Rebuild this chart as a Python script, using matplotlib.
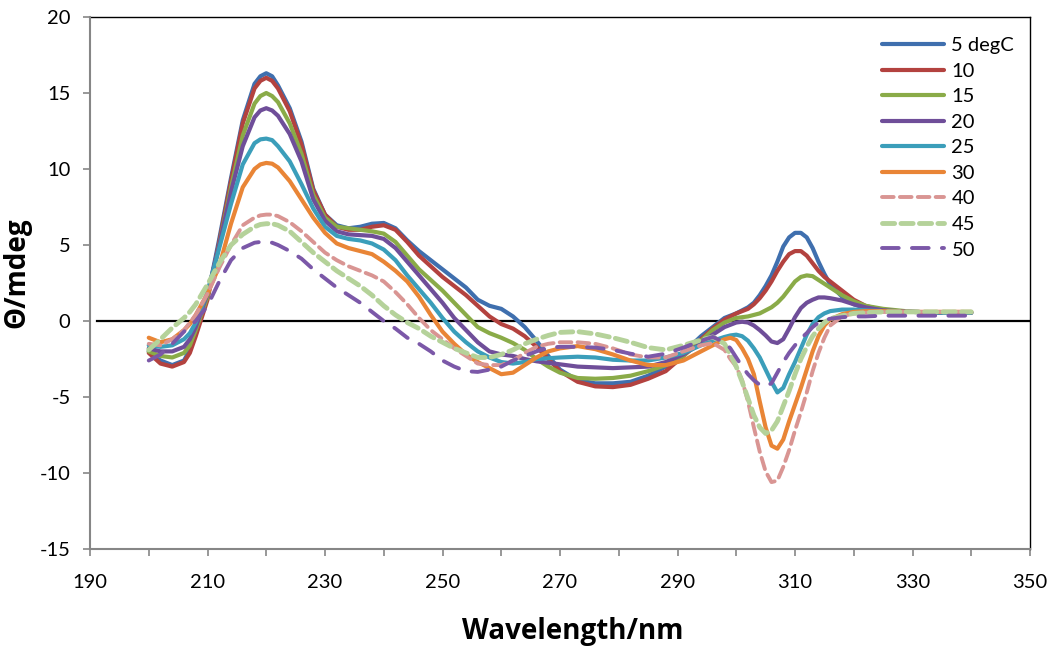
import matplotlib
matplotlib.use("Agg")
from matplotlib import pyplot as plt
from matplotlib.ticker import FixedLocator, MultipleLocator

# wavelength grid (nm) shared by all series
wl = [200, 202, 204, 206, 207, 208, 210, 212, 214, 216, 218, 219, 220, 221, 222, 224, 226, 228, 230,
      232, 234, 236, 238, 240, 242, 244, 246, 248, 250, 252, 254, 256, 258, 260, 262, 264,
      266, 268, 270,
      273, 276, 279, 282, 285, 288, 291, 294, 296, 298,
      299, 300, 301, 302, 303, 304, 305, 306, 307, 308, 309, 310, 311, 312, 313, 314, 315,
      316, 318, 320, 322, 325, 330, 335, 340]

t05 = [-2.0, -2.6, -2.9, -2.6, -1.9, -0.8, 1.6, 5.4, 9.4, 13.2, 15.6, 16.1, 16.3, 16.1, 15.5, 14.0, 11.8, 8.7, 7.0,
       6.3, 6.1, 6.2, 6.4, 6.45, 6.1, 5.3, 4.6, 4.0, 3.4, 2.8, 2.2, 1.4, 1.0, 0.8, 0.3, -0.4,
       -1.3, -2.3, -3.2,
       -3.9, -4.1, -4.1, -4.0, -3.6, -3.0, -2.1, -1.0, -0.4, 0.2,
       0.35, 0.5, 0.7, 0.9, 1.2, 1.7, 2.3, 3.0, 3.9, 4.9, 5.5, 5.8, 5.8, 5.5, 4.8, 3.9, 3.1,
       2.4, 1.6, 1.1, 0.85, 0.7, 0.6, 0.55, 0.55]
t10 = [-2.1, -2.8, -3.0, -2.7, -2.1, -1.0, 1.4, 5.2, 9.2, 13.0, 15.3, 15.8, 16.0, 15.8, 15.3, 13.8, 11.6, 8.6, 7.0,
       6.2, 6.0, 6.0, 6.2, 6.3, 6.0, 5.2, 4.3, 3.6, 2.9, 2.3, 1.7, 1.0, 0.3, -0.2, -0.5, -1.0,
       -1.7, -2.5, -3.3,
       -4.0, -4.3, -4.35, -4.2, -3.8, -3.3, -2.3, -1.2, -0.5, 0.1,
       0.3, 0.5, 0.65, 0.8, 1.1, 1.5, 2.0, 2.6, 3.3, 3.9, 4.4, 4.6, 4.6, 4.3, 3.8, 3.3, 2.9,
       2.6, 2.0, 1.4, 1.0, 0.7, 0.6, 0.55, 0.55]
t15 = [-2.0, -2.3, -2.4, -2.1, -1.6, -0.6, 1.6, 5.0, 8.8, 12.2, 14.3, 14.8, 15.0, 14.8, 14.4, 13.0, 11.0, 8.3, 6.8,
       6.2, 6.1, 6.0, 5.9, 5.75, 5.2, 4.3, 3.4, 2.7, 2.0, 1.2, 0.4, -0.4, -0.8, -1.1, -1.45, -1.9,
       -2.5, -3.0, -3.4,
       -3.75, -3.8, -3.75, -3.6, -3.3, -2.9, -2.3, -1.3, -0.6, -0.1,
       0.05, 0.2, 0.25, 0.3, 0.4, 0.5, 0.7, 0.9, 1.2, 1.6, 2.1, 2.6, 2.9, 3.0, 2.95, 2.7, 2.45,
       2.2, 1.7, 1.3, 1.0, 0.8, 0.6, 0.55, 0.55]
t20 = [-1.8, -2.0, -2.0, -1.7, -1.2, -0.4, 1.8, 5.0, 8.5, 11.5, 13.4, 13.85, 14.0, 13.85, 13.5, 12.3, 10.5, 8.0, 6.6,
       5.9, 5.7, 5.65, 5.6, 5.4, 4.8, 3.9, 3.0, 2.1, 1.2, 0.2, -0.6, -1.4, -2.0, -2.2, -2.3, -2.5,
       -2.65, -2.75, -2.85,
       -3.0, -3.05, -3.1, -3.05, -3.0, -2.7, -2.2, -1.5, -0.9, -0.4,
       -0.25, -0.1, -0.05, -0.1, -0.3, -0.6, -0.95, -1.35, -1.45, -1.2, -0.5, 0.25, 0.85, 1.2, 1.4,
       1.55, 1.55, 1.5, 1.35, 1.1, 0.9, 0.7, 0.6, 0.55, 0.55]
t25 = [-1.6, -1.7, -1.6, -1.2, -0.8, -0.1, 1.9, 4.8, 7.7, 10.3, 11.7, 11.95, 12.0, 11.9, 11.5, 10.5, 9.0, 7.4, 6.2,
       5.6, 5.4, 5.3, 5.1, 4.7, 4.0, 3.0, 2.1, 1.2, 0.2, -0.7, -1.4, -2.0, -2.4, -2.7, -2.8, -2.7,
       -2.5, -2.45, -2.4,
       -2.35, -2.4, -2.55, -2.6, -2.6, -2.4, -2.1, -1.6, -1.3, -1.05,
       -0.95, -0.9, -1.0, -1.3, -1.8, -2.4, -3.2, -4.0, -4.7, -4.4, -3.5, -2.7, -1.8, -0.9, -0.2,
       0.25, 0.5, 0.65, 0.75, 0.75, 0.7, 0.65, 0.6, 0.55, 0.55]
t30 = [-1.1, -1.4, -1.2, -0.6, -0.2, 0.4, 1.8, 3.6, 6.4, 8.8, 10.0, 10.3, 10.4, 10.35, 10.1, 9.2, 8.0, 6.8, 5.8,
       5.1, 4.8, 4.6, 4.4, 3.9, 3.3, 2.6, 1.6, 0.4, -0.7, -1.5, -2.2, -2.7, -3.1, -3.5, -3.4, -2.9,
       -2.4, -2.0, -1.8,
       -1.65, -1.85, -2.2, -2.6, -2.9, -2.9, -2.6, -2.0, -1.6, -1.2,
       -1.1, -1.25, -1.8, -2.5, -3.5, -5.3, -7.0, -8.2, -8.4, -7.8, -6.6, -5.5, -4.4, -3.2, -2.0,
       -1.0, -0.3, 0.1, 0.45, 0.6, 0.65, 0.65, 0.6, 0.6, 0.6]
t40 = [-1.5, -1.6, -1.2, -0.6, -0.1, 0.4, 1.8, 3.5, 5.0, 6.3, 6.8, 6.95, 7.0, 7.0, 6.9, 6.5, 5.9, 5.2, 4.5,
       4.0, 3.6, 3.3, 3.0, 2.6, 1.9, 1.1, 0.2, -0.6, -1.2, -1.8, -2.3, -2.8, -2.9, -2.9, -2.6, -2.1,
       -1.7, -1.5, -1.4,
       -1.4, -1.5, -1.8, -2.2, -2.4, -2.4, -2.0, -1.6, -1.45, -1.9,
       -2.5, -3.0, -3.9, -5.3, -7.0, -8.6, -9.9, -10.6, -10.5, -9.6, -8.5, -7.2, -6.0, -4.7, -3.3,
       -2.1, -1.1, -0.3, 0.3, 0.5, 0.55, 0.6, 0.6, 0.6, 0.6]
t45 = [-1.9, -1.2, -0.45, 0.2, 0.6, 1.1, 2.4, 3.8, 5.0, 5.7, 6.2, 6.35, 6.4, 6.4, 6.3, 5.9, 5.2, 4.5, 3.9,
       3.3, 2.8, 2.3, 1.7, 1.0, 0.4, -0.1, -0.5, -1.0, -1.4, -1.8, -2.1, -2.4, -2.4, -2.2, -1.9, -1.5,
       -1.2, -0.95, -0.75,
       -0.7, -0.85, -1.1, -1.4, -1.75, -1.9, -1.6, -1.25, -1.05, -1.5,
       -2.2, -3.0, -4.0, -5.1, -6.2, -7.0, -7.4, -7.2, -6.6, -5.6, -4.6, -3.5, -2.5, -1.7, -1.0,
       -0.5, -0.1, 0.15, 0.35, 0.5, 0.55, 0.6, 0.6, 0.6, 0.6]
t50 = [-2.6, -2.2, -1.5, -0.7, -0.35, 0.0, 1.0, 2.6, 4.0, 4.8, 5.15, 5.2, 5.2, 5.15, 5.0, 4.6, 4.1, 3.4, 2.8,
       2.2, 1.7, 1.2, 0.6, 0.0, -0.5, -1.1, -1.5, -2.0, -2.6, -3.0, -3.3, -3.35, -3.2, -3.0, -2.6, -2.3,
       -2.0, -1.75, -1.7,
       -1.7, -1.75, -1.9, -2.15, -2.35, -2.15, -1.75, -1.3, -1.05, -1.4,
       -1.8, -2.4, -3.0, -3.5, -3.9, -4.2, -4.3, -4.1, -3.4, -2.7, -2.1, -1.6, -1.15, -0.8, -0.4,
       -0.1, 0.05, 0.15, 0.25, 0.3, 0.3, 0.35, 0.35, 0.35, 0.35]

labels = ['5 degC', '10', '15', '20', '25', '30', '40', '45', '50']
series = [t05, t10, t15, t20, t25, t30, t40, t45, t50]
colors = ['#3F6FAE', '#B3423F', '#8AAB48', '#6F4E99', '#3B9EBA', '#E98536',
          '#D99593', '#B5D29A', '#7B58A8']
widths = [3.0, 3.0, 3.0, 3.0, 3.0, 3.0, 2.8, 3.5, 2.8]
styles = ['-', '-', '-', '-', '-', '-', (0, (3.0, 1.6)), (0, (2.5, 1.3)), (0, (4.3, 3.4))]

xmajor = [190, 210, 230, 250, 270, 290, 310, 330, 350]
xminor = [200, 220, 240, 260, 280, 300, 320, 340]

plt.rcParams['font.family'] = ['Lato', 'DejaVu Sans']
plt.rcParams['axes.unicode_minus'] = False

fig = plt.figure(figsize=(10.5, 6.56), dpi=100)
ax = fig.add_axes([90 / 1050, 1 - 549 / 656, 940 / 1050, 532 / 656])

ax.axhline(0, xmin=0.007, color='black', lw=1.6, zorder=1)
for y, lab, c, w, ls in zip(series, labels, colors, widths, styles):
    ax.plot(wl, y, color=c, lw=w, linestyle=ls, label=lab, zorder=2,
            solid_joinstyle='round', solid_capstyle='round', dash_capstyle='round')

ax.set_xlim(190, 350)
ax.set_ylim(-15, 20)
ax.xaxis.set_major_locator(FixedLocator(xmajor))
ax.xaxis.set_minor_locator(FixedLocator(xminor))
ax.yaxis.set_major_locator(MultipleLocator(5))
ax.tick_params(axis='both', which='both', direction='out', length=5, width=1.2,
               color='#868686', labelsize=14.5)
ax.tick_params(axis='x', which='major', pad=13)
ax.tick_params(axis='y', pad=9)

for s in ['top', 'right']:
    ax.spines[s].set_color('black')
    ax.spines[s].set_linewidth(1.0)
for s in ['left', 'bottom']:
    ax.spines[s].set_color('#868686')
    ax.spines[s].set_linewidth(1.5)
    ax.spines[s].set_zorder(3)

ax.set_xlabel('Wavelength/nm', fontsize=20, fontweight='bold', family=['Open Sans', 'DejaVu Sans'])
ax.xaxis.set_label_coords(0.514, -0.128)
ax.set_ylabel('Θ/mdeg', fontsize=20, fontweight='bold', family=['Open Sans', 'DejaVu Sans'])
ax.yaxis.set_label_coords(-0.062, 0.52)

fig.legend(loc='upper left', bbox_to_anchor=(882 / 1050, 1 - 37 / 656), frameon=False,
           fontsize=14.5, handlelength=3.1, handletextpad=0.35, labelspacing=0.42,
           borderpad=0, borderaxespad=0)

fig.savefig('out.png', dpi=100)
